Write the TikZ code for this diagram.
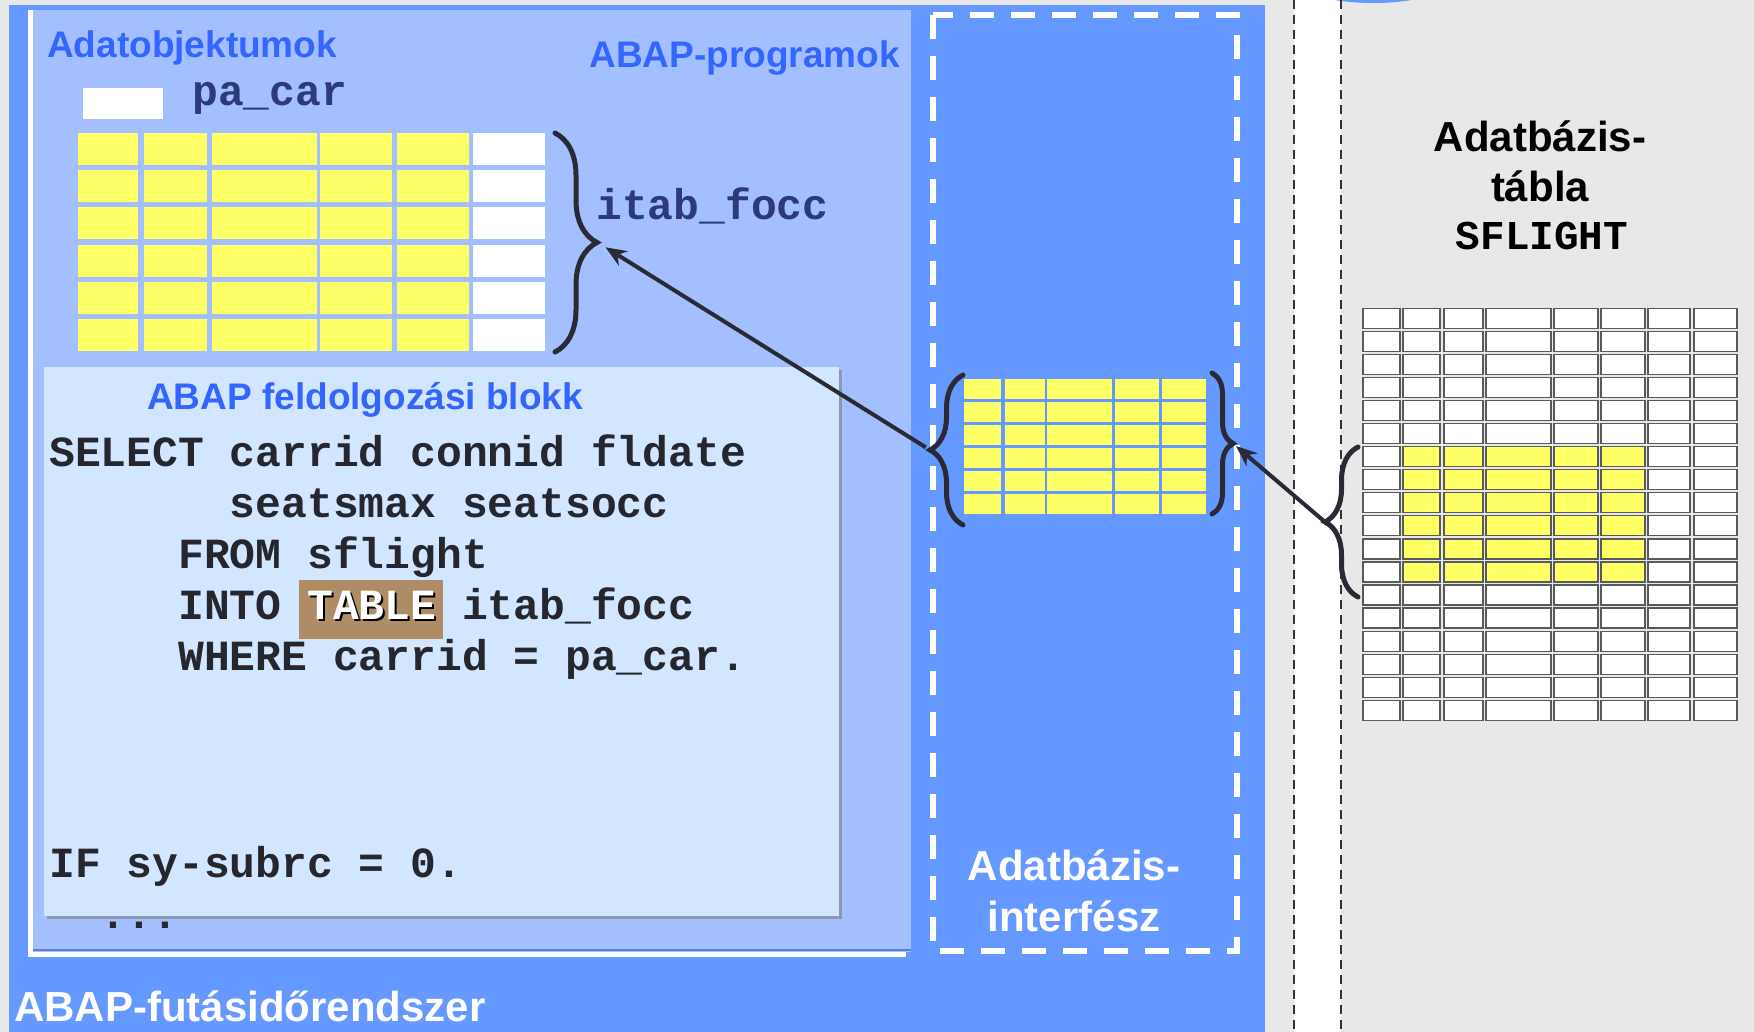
\documentclass[tikz,border=0pt]{standalone}
\usepackage{fontspec}
\setmainfont{Liberation Sans}
\newfontfamily\monofont{Liberation Mono}
\usetikzlibrary{arrows.meta,decorations.pathreplacing}

\definecolor{greybg}{HTML}{E8E8E8}
\definecolor{runtime}{HTML}{6699FF}
\definecolor{progbg}{HTML}{A3BFFF}
\definecolor{blockbg}{HTML}{D2E6FF}
\definecolor{abapblue}{HTML}{3366FF}
\definecolor{cellyellow}{HTML}{FFFF66}
\definecolor{braceink}{HTML}{2A2A35}
\definecolor{codeink}{HTML}{26262E}
\definecolor{varink}{HTML}{2C3B78}
\definecolor{tablebrown}{HTML}{AD8C66}
\definecolor{gridgrey}{HTML}{5A5A5A}
\definecolor{shadowgrey}{HTML}{8A98B0}

\tikzset{
  boxtitle/.style={font=\fontsize{37}{40}\selectfont\bfseries, text=abapblue, inner sep=0pt},
  bigtitle/.style={font=\fontsize{42}{46}\selectfont\bfseries, inner sep=0pt},
  code/.style={font=\monofont\fontsize{43}{46}\selectfont\bfseries, text=codeink, inner sep=0pt, anchor=base west},
  dbcell/.style={draw=gridgrey, line width=1.2pt},
  curly/.style={decorate, decoration={brace, amplitude=#1}, line width=5pt, line cap=round, draw=braceink},
  flow/.style={-{Stealth[length=21pt,width=17pt]}, line width=4pt, draw=braceink},
  sepline/.style={draw=black!80, line width=2pt, dash pattern=on 9pt off 6pt},
}

\begin{document}
\begin{tikzpicture}[x=1pt,y=-1pt]
    \useasboundingbox (0,0) rectangle (1754,1032);
    \clip (0,0) rectangle (1754,1032);

    % Backgrounds
    \fill[greybg] (0,0) rectangle (1754,1032);
    \fill[white] (1294,0) rectangle (1341,1032);
    \fill[runtime] (1373,-10) ellipse (60 and 13);
    \draw[sepline] (1294,0) -- (1294,1032);
    \draw[sepline] (1341,0) -- (1341,1032);
    \fill[runtime] (9,5) rectangle (1265,1032);

    % ABAP programs
    \fill[white] (28,10) rectangle (906,957);
    \fill[progbg] (33,10) rectangle (911,952);
    \draw[runtime!85!black, line width=1.5pt] (33,950) -- (911,950);
    \node[boxtitle, anchor=base west] (dataobj) at (47,58) {Adatobjektumok};
    \node[boxtitle, anchor=base east] (programs) at (900,68) {ABAP-programok};

    % pa_car and itab_focc
    \fill[white] (83,88) rectangle (163,119);
    \node[code, text=varink] (pacar) at (192,106) {pa\_car};
    \foreach \xa/\xb/\c in {78/138/cellyellow, 144/207/cellyellow, 212/317/cellyellow,
                            320/392/cellyellow, 397/469/cellyellow, 473/545/white}
        \foreach \r in {0,...,5}
            \fill[\c] (\xa,{133+37.2*\r}) rectangle (\xb,{165+37.2*\r});
    \draw[curly=42] (555,133) -- (555,352);
    \coordinate (itabtip) at (597,242);
    \node[code, text=varink] (itab) at (596,220) {itab\_focc};

    % Processing block
    \fill[shadowgrey] (47,370) rectangle (842,919);
    \fill[blockbg] (44,367) rectangle (839,916);
    \node[boxtitle, anchor=base west] (block) at (147,409) {ABAP feldolgozási blokk};
    \node[code] (selectln) at (49,466) {SELECT carrid connid fldate};
    \node[code] (fieldsln) at (229.6,517) {seatsmax seatsocc};
    \node[code] (fromln) at (178,568) {FROM sflight};
    \fill[tablebrown] (299,580) rectangle (443,639);
    \node[code, text=black] (tableshadow) at (309,621) {TABLE};
    \node[code] (intoln) at (178,619) {INTO \textcolor{white}{TABLE} itab\_focc};
    \node[code] (whereln) at (178,670) {WHERE carrid = pa\_car.};
    \node[code] (ifln) at (49,877) {IF sy-subrc = 0.};
    \node[code] (dots) at (100.6,928) {...};

    % Database interface
    \draw[white, line width=5.5pt, dash pattern=on 24pt off 17pt] (933,15) rectangle (1237,951);
    \foreach \xa/\xb in {964/1001, 1005/1045, 1047/1112, 1115/1159, 1162/1206}
        \foreach \r in {0,...,5}
            \fill[cellyellow] (\xa,{379+23*\r}) rectangle (\xb,{399+23*\r});
    \draw[curly=33] (963,525) -- (963,375);
    \draw[curly=21] (1212,373) -- (1212,514);
    \coordinate (ifltip) at (930,450);
    \coordinate (ifrtip) at (1233,443.5);
    \node[bigtitle, text=white, anchor=base] (iface1) at (1074,880) {Adatbázis-};
    \node[bigtitle, text=white, anchor=base] (iface2) at (1074,931) {interfész};

    % Database table
    \node[bigtitle, anchor=base] (dbtab1) at (1540,152) {Adatbázis-};
    \node[bigtitle, anchor=base] (dbtab2) at (1540,202) {tábla};
    \node[bigtitle, font=\monofont\fontsize{41}{44}\selectfont\bfseries, anchor=base] (sflight) at (1542,250) {SFLIGHT};
    \foreach \xa/\xb in {1363/1400, 1403/1440, 1444/1483, 1486/1551, 1554/1598, 1601/1645, 1648/1690, 1694/1737}
        \foreach \r in {0,...,17}
            \filldraw[dbcell, fill=white] (\xa,{308.3+23.06*\r}) rectangle (\xb,{328.3+23.06*\r});
    \foreach \xa/\xb in {1403/1440, 1444/1483, 1486/1551, 1554/1598, 1601/1645}
        \foreach \r in {6,...,11}
            \filldraw[dbcell, fill=cellyellow] (\xa,{308.3+23.06*\r}) rectangle (\xb,{328.3+23.06*\r});
    \draw[curly=33] (1358,597) -- (1358,447);
    \coordinate (dbtip) at (1325,522);

    % Data flow
    \draw[flow, shorten <=5pt, shorten >=10pt] (ifltip) -- (itabtip);
    \draw[flow, shorten >=4pt] (dbtip) -- (ifrtip);

    \node[bigtitle, text=white, anchor=base west] (runtimelbl) at (14,1021) {ABAP-futásidőrendszer};
\end{tikzpicture}
\end{document}
